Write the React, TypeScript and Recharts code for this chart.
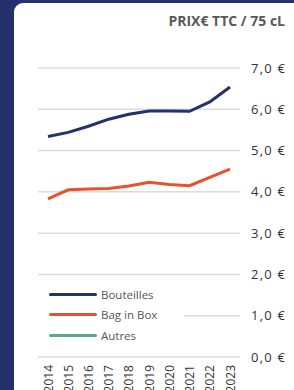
import { CartesianGrid, Legend, Line, LineChart, XAxis, YAxis } from "recharts";

const NAVY = "#26306c";
const ORANGE = "#e8522b";
const GREEN = "#5aa98b";
const GRID_COLOR = "#dcdcdc";
const TEXT_COLOR = "#333333";
const FONT = "'Open Sans', sans-serif";

const YEARS = ["2014", "2015", "2016", "2017", "2018", "2019", "2020", "2021", "2022", "2023"];
const BOUTEILLES = [5.34, 5.44, 5.59, 5.76, 5.88, 5.96, 5.96, 5.95, 6.18, 6.54];
const BAG_IN_BOX = [3.83, 4.05, 4.07, 4.08, 4.14, 4.23, 4.18, 4.15, 4.35, 4.55];
const AUTRES: (number | null)[] = [null, null, null, null, null, null, null, null, null, null];
const SERIES_NAMES = ["Bouteilles", "Bag in Box", "Autres"];
const Y_TICKS = [0, 1, 2, 3, 4, 5, 6, 7];

const data = YEARS.map((year, i) => ({
  year,
  bouteilles: BOUTEILLES[i],
  bib: BAG_IN_BOX[i],
  autres: AUTRES[i],
}));

function formatEuro(v: number): string {
  return `${v.toFixed(1).replace(".", ",")} €`;
}

function YearTick({ x, y, payload }: any) {
  return (
    <text
      x={x}
      y={y}
      transform={`rotate(-90, ${x}, ${y})`}
      textAnchor="end"
      dominantBaseline="central"
      fill={TEXT_COLOR}
      fontSize={12}
      fontFamily={FONT}
    >
      {payload.value}
    </text>
  );
}

function LegendBox({ payload }: any) {
  const items = [...(payload || [])].sort(
    (a: any, b: any) => SERIES_NAMES.indexOf(a.value) - SERIES_NAMES.indexOf(b.value)
  );
  return (
    <div style={{ background: "#fff", width: 146, paddingTop: 2 }}>
      {items.map((entry: any) => (
        <div
          key={entry.value}
          style={{ display: "flex", alignItems: "center", height: 20.5 }}
        >
          <div
            style={{
              width: 48,
              height: 3,
              marginLeft: 11,
              marginRight: 4,
              background: entry.color,
              borderRadius: 2,
            }}
          />
          <span style={{ fontSize: 11.5, color: "#555", fontFamily: FONT }}>
            {entry.value}
          </span>
        </div>
      ))}
    </div>
  );
}

export default function App() {
  return (
    <div
      style={{
        position: "relative",
        width: 294,
        height: 390,
        background: NAVY,
        overflow: "hidden",
      }}
    >
      <style>{"body{margin:0}"}</style>
      <div
        style={{
          position: "absolute",
          left: 14,
          top: 3,
          right: 0,
          bottom: 0,
          background: "#fff",
          borderTopLeftRadius: 9,
        }}
      />
      <div
        style={{
          position: "absolute",
          right: 9,
          top: 11,
          fontFamily: FONT,
          fontWeight: 700,
          fontSize: 14,
          color: "#595959",
        }}
      >
        PRIX€ TTC / 75 cL
      </div>
      <div style={{ position: "absolute", left: 0, top: 0 }}>
        <LineChart
          width={294}
          height={390}
          data={data}
          margin={{ top: 68, right: 0, left: 38, bottom: 3 }}
        >
          <CartesianGrid vertical={false} stroke={GRID_COLOR} strokeWidth={1.5} />
          <XAxis
            dataKey="year"
            axisLine={false}
            tickLine={false}
            interval={0}
            height={30}
            padding={{ left: 10, right: 10 }}
            tick={<YearTick />}
          />
          <YAxis
            orientation="right"
            domain={[0, 7]}
            ticks={Y_TICKS}
            axisLine={false}
            tickLine={false}
            tickMargin={5}
            width={54}
            tickFormatter={formatEuro}
            tick={{ fill: TEXT_COLOR, fontSize: 13, fontFamily: FONT, letterSpacing: 1.2 }}
          />
          <Legend
            layout="horizontal"
            verticalAlign="middle"
            align="center"
            wrapperStyle={{ left: 38, top: 282, width: 146 }}
            content={<LegendBox />}
          />
          <Line
            dataKey="bouteilles"
            name="Bouteilles"
            stroke={NAVY}
            strokeWidth={3}
            dot={false}
            isAnimationActive={false}
          />
          <Line
            dataKey="bib"
            name="Bag in Box"
            stroke={ORANGE}
            strokeWidth={3}
            dot={false}
            isAnimationActive={false}
          />
          <Line
            dataKey="autres"
            name="Autres"
            stroke={GREEN}
            strokeWidth={3}
            dot={false}
            isAnimationActive={false}
          />
        </LineChart>
      </div>
    </div>
  );
}
